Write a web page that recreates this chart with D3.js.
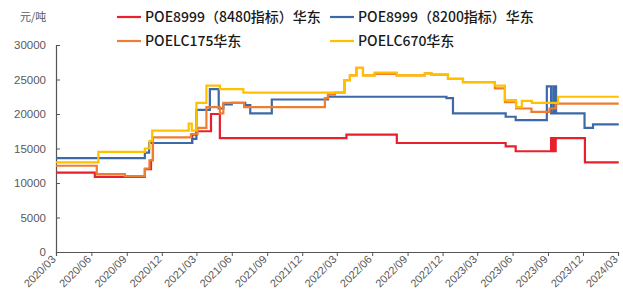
<!DOCTYPE html>
<html><head><meta charset="utf-8">
<script src="https://cdn.jsdelivr.net/npm/d3@7"></script>
<style>body{margin:0;background:#fff}svg{display:block}</style>
</head><body><div id="chart"></div>
<script>
const seriesNames = ["POE8999（8480指标）华东","POE8999（8200指标）华东","POELC175华东","POELC670华东"];
const seriesColors = ["#e8202c","#3d69a8","#ee7d31","#ffc000"];
const yTicks = [0,5000,10000,15000,20000,25000,30000];
const unitLabel = "元/吨";

const redDates = ["2020-03-01","2020-06-10","2020-10-18","2020-11-03","2020-11-08","2021-02-18","2021-03-01","2021-04-08","2021-05-01","2022-03-26","2022-08-04","2023-05-14","2023-06-09","2023-09-09","2023-09-11","2023-09-13","2023-09-15","2023-09-17","2023-09-19","2023-09-21","2023-12-06","2024-03-03"];
const redValues = [11500,10900,12000,13300,15800,17000,17500,20000,16500,17000,15800,15300,14600,16500,14600,16500,14600,16500,14600,16500,13000,13000];

const blueDates = ["2020-03-01","2020-10-18","2020-10-29","2021-02-18","2021-03-01","2021-04-05","2021-04-28","2021-05-10","2021-06-01","2021-07-06","2021-07-19","2021-09-13","2022-02-06","2022-12-11","2022-12-28","2023-05-14","2023-06-09","2023-08-29","2023-09-09","2023-09-15","2023-09-17","2023-09-18","2023-09-20","2023-09-21","2023-09-22","2023-12-05","2023-12-27","2024-03-03"];
const blueValues = [13600,14400,15800,16400,20600,23600,20800,21400,21600,21300,20100,22100,22500,22300,20100,19600,19100,24000,20100,24000,20100,24000,20100,24000,20100,18000,18500,18500];

const orangeDates = ["2020-03-01","2020-06-15","2020-08-27","2020-10-18","2020-10-30","2020-11-08","2021-02-15","2021-03-04","2021-03-27","2021-05-01","2021-05-10","2021-07-03","2022-01-29","2022-02-06","2022-02-24","2022-03-21","2022-04-04","2022-04-21","2022-05-08","2022-06-07","2022-08-04","2022-10-16","2022-11-02","2022-12-15","2023-01-23","2023-04-16","2023-05-12","2023-06-10","2023-07-20","2023-09-05","2023-09-21","2024-03-03"];
const orangeValues = [12500,11300,11000,12100,13300,16600,17100,18000,21000,20100,21600,21000,22300,22800,23100,24900,25600,26700,25600,25800,25600,25900,25700,25100,24600,23700,21700,20800,20300,20800,21500,21500];

const yellowDates = ["2020-03-01","2020-06-19","2020-10-18","2020-10-30","2020-11-06","2021-02-09","2021-02-17","2021-03-01","2021-03-27","2021-05-01","2021-07-01","2022-03-21","2022-04-04","2022-04-21","2022-05-08","2022-06-07","2022-08-04","2022-10-16","2022-11-02","2022-12-15","2023-01-23","2023-04-16","2023-05-12","2023-06-10","2023-06-25","2023-07-21","2023-09-27","2024-03-03"];
const yellowValues = [13000,14500,15000,16100,17600,18600,17600,21600,24100,23600,23100,24900,25600,26700,25600,26000,25600,25900,25700,25100,24600,24100,22000,21000,21900,21600,22500,22500];

const W = 623, H = 302;
const parse = d3.timeParse("%Y-%m-%d");
const fmt = d3.timeFormat("%Y/%m");
const start = parse("2020-03-01"), end = parse("2024-03-01");

const svg = d3.select("#chart").append("svg").attr("width", W).attr("height", H);

const x = d3.scaleTime().domain([start, end]).range([56, 618]);
const y = d3.scaleLinear().domain([0, 30000]).range([252, 45]);

const allSeries = [
  {dates: redDates, values: redValues},
  {dates: blueDates, values: blueValues},
  {dates: orangeDates, values: orangeValues},
  {dates: yellowDates, values: yellowValues}
].map((s, i) => ({
  name: seriesNames[i], color: seriesColors[i],
  pts: s.dates.map((d, j) => ({date: parse(d), value: s.values[j]}))
}));

// y axis
const yAxis = d3.axisLeft(y).tickValues(yTicks).tickSize(-4).tickPadding(10).tickFormat(d3.format("d"));
const gy = svg.append("g").attr("transform", `translate(56,0)`).call(yAxis);
gy.select(".domain").attr("stroke", "#555").attr("stroke-width", 1.2);
gy.selectAll(".tick line").attr("stroke", "#555");
gy.selectAll("text").attr("font-family", "Liberation Sans, Arial, sans-serif").attr("font-size", 11.5).attr("fill", "#595959");

// x axis
const xTicks = d3.range(17).map(i => d3.timeMonth.offset(start, 3 * i));
const xAxis = d3.axisBottom(x).tickValues(xTicks).tickSize(4).tickFormat(fmt);
const gx = svg.append("g").attr("transform", `translate(0,252)`).call(xAxis);
gx.select(".domain").attr("stroke", "#555").attr("stroke-width", 1.2);
gx.selectAll(".tick line").attr("stroke", "#555");
gx.selectAll("text")
  .attr("font-family", "Liberation Sans, Arial, sans-serif").attr("font-size", 11).attr("fill", "#595959")
  .attr("text-anchor", "end").attr("dy", null).attr("y", 0)
  .attr("transform", "translate(0,8) rotate(-45)");

// lines
const line = d3.line().x(d => x(d.date)).y(d => y(d.value)).curve(d3.curveStepAfter);
svg.append("g").selectAll("path").data(allSeries).join("path")
  .attr("d", d => line(d.pts))
  .attr("fill", "none").attr("stroke", d => d.color).attr("stroke-width", 2.2)
  .attr("stroke-linejoin", "miter");

// unit label
svg.append("text").attr("x", 20).attr("y", 21).text(unitLabel)
  .attr("font-family", "Noto Sans CJK SC, sans-serif").attr("font-size", 11).attr("fill", "#595959");

// legend
const legPos = [[117,17],[330,17],[117,41],[330,41]];
const leg = svg.append("g").selectAll("g").data(allSeries).join("g")
  .attr("transform", (d, i) => `translate(${legPos[i][0]},${legPos[i][1]})`);
leg.append("line").attr("x1", 0).attr("x2", 24).attr("y1", 0).attr("y2", 0)
  .attr("stroke", d => d.color).attr("stroke-width", 2.2);
leg.append("text").attr("x", 28).attr("y", 0).attr("dy", "0.36em").text(d => d.name)
  .attr("font-family", "Noto Sans CJK SC, sans-serif").attr("font-size", 14).attr("font-weight", 500).attr("fill", "#1a1a1a");
</script></body></html>
